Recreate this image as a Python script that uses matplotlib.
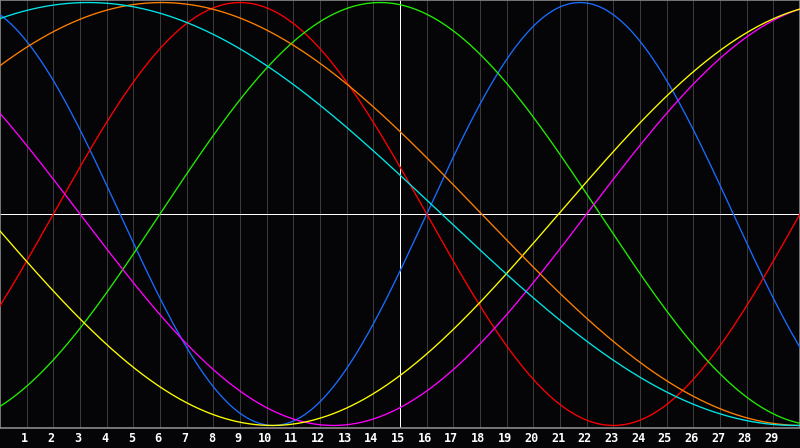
import numpy as np
import matplotlib
matplotlib.use("Agg")
import matplotlib.pyplot as plt
from matplotlib.transforms import ScaledTranslation

# Biorhythm-style cycles: period (days) and day of upward zero crossing
cycle_names = ["physical", "emotional", "intellectual", "intuitive",
               "aesthetic", "awareness", "spiritual"]
periods = [23, 28, 33, 38, 43, 48, 53]
up_cross_day = [16.0, 2.0, 6.0, 22.0, 20.95, -5.94, -9.94]
colors = ["#1a6cff", "#ff0000", "#22ee00", "#ff00ff",
          "#ffff00", "#ff8000", "#00e6e6"]

day_ticks = list(range(1, 30))
today = 15
x_range = (0, 30)

fig = plt.figure(figsize=(8.0, 4.48), dpi=100, facecolor="#050508")
ax = fig.add_axes([0, 20 / 448, 1, 428 / 448])
ax.set_facecolor("#050508")

px = 0.72  # one pixel in points at 100 dpi
x = np.linspace(x_range[0], x_range[1], 1600)
for p, c0, col in zip(periods, up_cross_day, colors):
    y = np.sin(2 * np.pi * (x - c0) / p)
    ax.plot(x, y, color=col, lw=0.95, zorder=3)

for d in day_ticks:
    ax.axvline(d, color="#3a3a3a", lw=px, zorder=1, antialiased=False)
ax.axvline(today, color="white", lw=px, zorder=2, antialiased=False)
ax.axhline(0, color="white", lw=px, zorder=2, antialiased=False)

ax.set_xlim(*x_range)
ax.set_ylim(-1.012, 1.012)
ax.set_xticks(day_ticks)
ax.set_xticklabels([str(d) for d in day_ticks], color="white",
                   fontsize=8.5, fontweight="bold", family="DejaVu Sans Mono")
ax.tick_params(axis="x", length=0, pad=3)
shift = ScaledTranslation(-2 / 100, 0, fig.dpi_scale_trans)
for lbl in ax.get_xticklabels():
    lbl.set_transform(lbl.get_transform() + shift)
ax.set_yticks([])
for s in ax.spines.values():
    s.set_color("#8a8a8a")
    s.set_linewidth(1.2)

fig.savefig("out.png", dpi=100, facecolor=fig.get_facecolor())
